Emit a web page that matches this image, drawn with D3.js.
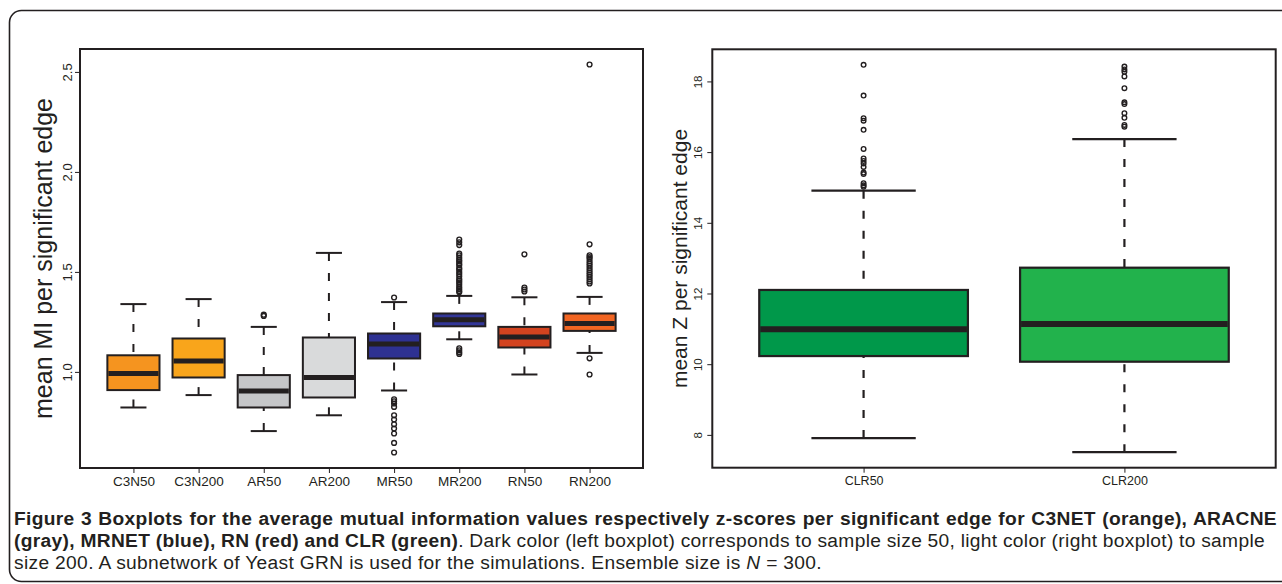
<!DOCTYPE html>
<html><head><meta charset="utf-8">
<script src="https://cdn.jsdelivr.net/npm/d3@7"></script>
<style>body{margin:0;background:#fff}svg{display:block}</style>
</head><body>
<svg id="c" width="1282" height="584"></svg>
<script>
// ---------- data (left panel: mean MI) ----------
const miCategories = ["C3N50","C3N200","AR50","AR200","MR50","MR200","RN50","RN200"];
const miWhiskerLow = [0.822, 0.884, 0.704, 0.783, 0.907, 1.163, 0.987, 1.095];
const miQ1         = [0.909, 0.972, 0.822, 0.872, 1.067, 1.228, 1.122, 1.205];
const miMedian     = [0.992, 1.054, 0.905, 0.972, 1.139, 1.261, 1.174, 1.242];
const miQ3         = [1.083, 1.167, 0.984, 1.172, 1.192, 1.292, 1.225, 1.292];
const miWhiskerHigh= [1.339, 1.364, 1.225, 1.595, 1.349, 1.380, 1.373, 1.375];
const miOutliers = [
  [],
  [],
  [1.280, 1.286],
  [],
  [1.372, 0.863, 0.853, 0.842, 0.825, 0.783, 0.762, 0.738, 0.717, 0.692, 0.645, 0.597],
  [1.662, 1.648, 1.634, 1.592, 1.583, 1.571, 1.56, 1.552, 1.541, 1.533, 1.52, 1.512, 1.50, 1.489, 1.478, 1.465, 1.456, 1.447, 1.436, 1.424, 1.415, 1.405, 1.398, 1.118, 1.108, 1.098, 1.090],
  [1.588, 1.422, 1.412, 1.402],
  [2.537, 1.638, 1.583, 1.574, 1.566, 1.553, 1.542, 1.531, 1.519, 1.508, 1.497, 1.486, 1.475, 1.463, 1.452, 1.442, 1.068, 0.987]
];
const miColors = ["#F5941F","#F9A51B","#C5C6C8","#D9DADB","#2E3192","#323698","#D3431F","#F26522"];
const miTicks = [1.0, 1.5, 2.0, 2.5];

// ---------- data (right panel: mean Z) ----------
const zCategories = ["CLR50","CLR200"];
const zWhiskerLow = [7.91, 7.51];
const zQ1         = [10.23, 10.07];
const zMedian     = [10.99, 11.14];
const zQ3         = [12.10, 12.73];
const zWhiskerHigh= [14.91, 16.37];
const zOutliers = [
  [18.47, 17.60, 16.96, 16.89, 16.63, 16.09, 15.82, 15.75, 15.68, 15.58, 15.42, 15.38, 15.12, 15.06, 15.02],
  [18.42, 18.34, 18.27, 18.14, 17.81, 17.41, 17.36, 17.10, 16.97, 16.77, 16.72]
];
const zColors = ["#00984A","#22B24C"];
const zTicks = [8, 10, 12, 14, 16, 18];

const ink = "#231F20";
const svg = d3.select("#c");

// outer rounded frame
svg.append("rect").attr("x",9.5).attr("y",10.5).attr("width",1290).attr("height",571)
  .attr("rx",12).attr("fill","none").attr("stroke",ink).attr("stroke-width",1.6);

function panel(o){
  const n = o.cats.length;
  const all = o.lo.concat(o.hi, o.out.flat());
  const mn = d3.min(all), mx = d3.max(all), pad = (mx-mn)*0.04;
  const y = d3.scaleLinear().domain([mn-pad, mx+pad]).range([o.bottom, o.top]);
  const xpad = n*0.04;
  const x = d3.scaleLinear().domain([0.5-xpad, n+0.5+xpad]).range([o.left, o.right]);
  const g = svg.append("g");
  const idx = d3.range(n);
  const bw = 0.4, sw = 0.2;

  g.selectAll(".wh").data(idx).join("line")
    .attr("x1", i=>x(i+1)).attr("x2", i=>x(i+1))
    .attr("y1", i=>y(o.hi[i])).attr("y2", i=>y(o.q3[i]))
    .attr("stroke",ink).attr("stroke-width",o.lw).attr("stroke-dasharray",o.dash);
  g.selectAll(".wl").data(idx).join("line")
    .attr("x1", i=>x(i+1)).attr("x2", i=>x(i+1))
    .attr("y1", i=>y(o.lo[i])).attr("y2", i=>y(o.q1[i]))
    .attr("stroke",ink).attr("stroke-width",o.lw).attr("stroke-dasharray",o.dash);
  [o.hi, o.lo].forEach(arr=>{
    g.append("g").selectAll("line").data(idx).join("line")
      .attr("x1", i=>x(i+1-sw)).attr("x2", i=>x(i+1+sw))
      .attr("y1", i=>y(arr[i])).attr("y2", i=>y(arr[i]))
      .attr("stroke",ink).attr("stroke-width",o.lw);
  });
  g.append("g").selectAll("rect").data(idx).join("rect")
    .attr("x", i=>x(i+1-bw)).attr("width", i=>x(i+1+bw)-x(i+1-bw))
    .attr("y", i=>y(o.q3[i])).attr("height", i=>y(o.q1[i])-y(o.q3[i]))
    .attr("fill", i=>o.colors[i]).attr("stroke",ink).attr("stroke-width",o.lw);
  g.append("g").selectAll("line").data(idx).join("line")
    .attr("x1", i=>x(i+1-bw)+1).attr("x2", i=>x(i+1+bw)-1)
    .attr("y1", i=>y(o.med[i])).attr("y2", i=>y(o.med[i]))
    .attr("stroke",ink).attr("stroke-width",o.mlw);
  const pts = idx.flatMap(i=>o.out[i].map(v=>({i,v})));
  g.append("g").selectAll("circle").data(pts).join("circle")
    .attr("cx", d=>x(d.i+1)).attr("cy", d=>y(d.v)).attr("r",o.pr)
    .attr("fill","none").attr("stroke",ink).attr("stroke-width",1.4);

  const ya = g.append("g").attr("transform",`translate(${o.left},0)`)
    .call(d3.axisLeft(y).tickValues(o.ticks).tickSize(5).tickFormat(o.fmt));
  ya.select(".domain").remove();
  ya.selectAll("line").attr("stroke",ink);
  ya.selectAll("text").attr("transform","rotate(-90)").attr("x",0).attr("y",-o.ylabOff)
    .attr("dy",0).attr("text-anchor","middle")
    .attr("font-family","'Liberation Sans', Arial, sans-serif").attr("font-size",o.yfs).attr("fill",ink);
  const xa = g.append("g").attr("transform",`translate(0,${o.bottom})`)
    .call(d3.axisBottom(x).tickValues(d3.range(1,n+1)).tickSize(5).tickPadding(3).tickFormat(i=>o.cats[i-1]));
  xa.select(".domain").remove();
  xa.selectAll("line").attr("stroke",ink);
  xa.selectAll("text").attr("font-family","'Liberation Sans', Arial, sans-serif")
    .attr("font-size",o.xfs).attr("fill",ink);

  g.append("rect").attr("x",o.left).attr("y",o.top).attr("width",o.right-o.left).attr("height",o.bottom-o.top)
    .attr("fill","none").attr("stroke",ink).attr("stroke-width",2);

  g.append("text").attr("transform",`translate(${o.titleX},${(o.top+o.bottom)/2}) rotate(-90)`)
    .attr("text-anchor","middle").attr("font-family","'Liberation Sans', Arial, sans-serif")
    .attr("font-size",o.tfs).attr("fill",ink).text(o.title);
}

panel({cats:miCategories, lo:miWhiskerLow, q1:miQ1, med:miMedian, q3:miQ3, hi:miWhiskerHigh,
  out:miOutliers, colors:miColors, ticks:miTicks, fmt:d=>d.toFixed(1),
  left:80, right:643, top:49, bottom:468, lw:2, mlw:5, dash:"8,12", pr:2.4,
  ylabOff:8.5, yfs:13, xfs:13.5, tfs:25, titleX:51.5, title:"mean MI per significant edge"});

panel({cats:zCategories, lo:zWhiskerLow, q1:zQ1, med:zMedian, q3:zQ3, hi:zWhiskerHigh,
  out:zOutliers, colors:zColors, ticks:zTicks, fmt:d3.format("d"),
  left:712.3, right:1275.7, top:49.3, bottom:467.7, lw:2.2, mlw:6, dash:"8,12", pr:2.3,
  ylabOff:10, yfs:11.5, xfs:12.5, tfs:21, titleX:687, title:"mean Z per significant edge"});

// ---------- caption ----------
const captionLines = [
  [{t:"Figure 3 Boxplots for the average mutual information values respectively z-scores per significant edge for C3NET (orange), ARACNE", b:true}],
  [{t:"(gray), MRNET (blue), RN (red) and CLR (green)", b:true},{t:". Dark color (left boxplot) corresponds to sample size 50, light color (right boxplot) to sample"}],
  [{t:"size 200. A subnetwork of Yeast GRN is used for the simulations. Ensemble size is "},{t:"N", i:true},{t:" = 300."}]
];
const capX = 14, capBase = [525, 547, 569], capRight = [1277, 1265, 822];
const capFont = "'Liberation Sans', Arial, sans-serif", capSize = 19.2;
const capNodes = captionLines.map((runs, li)=>{
  const t = svg.append("text").attr("x",capX).attr("y",capBase[li])
    .attr("font-family",capFont).attr("font-size",capSize).attr("fill",ink);
  runs.forEach(r=>{
    t.append("tspan").attr("font-weight", r.b?700:400).attr("font-style", r.i?"italic":"normal").text(r.t);
  });
  return t;
});
// tracking from the unjustified last line, then justify the first two lines
const last = capNodes[2], lastStr = captionLines[2].map(r=>r.t).join("");
const ls = Math.max(0, (capRight[2]-capX-last.node().getComputedTextLength())/lastStr.length);
capNodes.forEach((t, li)=>{
  t.style("letter-spacing", ls+"px");
  if (li < 2){
    const w = t.node().getComputedTextLength();
    const nsp = captionLines[li].map(r=>r.t).join("").split(" ").length-1;
    t.style("word-spacing", ((capRight[li]-capX-w)/nsp)+"px");
  }
});
</script>
</body></html>
